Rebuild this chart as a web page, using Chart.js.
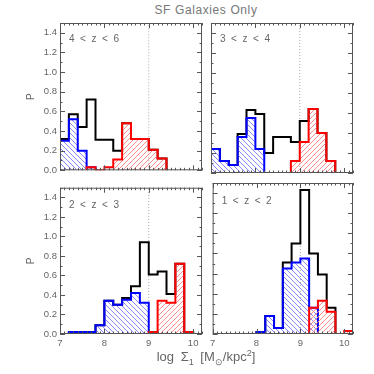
<!DOCTYPE html>
<html>
<head>
<meta charset="utf-8">
<script src="https://cdn.jsdelivr.net/npm/chart.js@4"></script>
<style>
  body { margin: 0; background: #fff; }
  #wrap { position: relative; width: 374px; height: 374px; font-family: "Liberation Sans", Arial, sans-serif; color: #666; }
  canvas { position: absolute; }
  #title { position: absolute; left: 106px; top: 3px; width: 200px; text-align: center; font-size: 12px; line-height: 14px; letter-spacing: 0.6px; color: #777; }
  #xtitle { position: absolute; left: 86px; top: 349px; width: 240px; text-align: center; font-size: 13px; line-height: 16px; word-spacing: 3px; }
  #xtitle sub, #xtitle sup { font-size: 9px; line-height: 0; }
</style>
</head>
<body>
<div id="wrap">
  <div id="title">SF Galaxies Only</div>
  <canvas id="c1" width="208" height="166" style="left:0px;top:13px"></canvas>
  <canvas id="c2" width="168" height="166" style="left:206px;top:13px"></canvas>
  <canvas id="c3" width="208" height="173" style="left:0px;top:179px"></canvas>
  <canvas id="c4" width="168" height="173" style="left:206px;top:179px"></canvas>
  <div id="xtitle">log Σ<sub>1</sub> [M<sub>⊙</sub>/kpc<sup>2</sup>]</div>
</div>
<script>
// Data: bins of 0.2 dex in log Sigma_1, starting at 7.0
const binEdges = [7.0, 7.2, 7.4, 7.6, 7.8, 8.0, 8.2, 8.4, 8.6, 8.8, 9.0, 9.2, 9.4, 9.6, 9.8, 10.0, 10.2];
const panelLabels = ['4  <  z  <  6', '3  <  z  <  4', '2  <  z  <  3', '1  <  z  <  2'];
const xTicks = [7, 8, 9, 10];
const yTicks = [0.0, 0.2, 0.4, 0.6, 0.8, 1.0, 1.2, 1.4];
const thresholdLogSigma = 9.0;

// 4 < z < 6
const allZ46  = [0.32, 0.57, 0.44, 0.72, 0.31, 0.31, 0.20, 0.48, 0.32, 0.32, 0.21, 0.12, 0, 0, 0, 0];
const blueZ46 = [0.30, 0.52, 0.20, 0.03, 0, 0, 0, 0, 0, 0, 0, 0, 0, 0, 0, 0];
const redZ46  = [0, 0, 0, 0.03, 0, 0.03, 0.11, 0.48, 0.32, 0.32, 0.21, 0.12, 0, 0, 0, 0];
// 3 < z < 4
const allZ34  = [0.24, 0.12, 0.08, 0.39, 0.63, 0.59, 0.20, 0.36, 0.36, 0.31, 0.52, 0.64, 0.40, 0.12, 0, 0];
const blueZ34 = [0.24, 0.12, 0.08, 0.36, 0.55, 0.24, 0, 0, 0, 0, 0, 0, 0, 0, 0, 0];
const redZ34  = [0, 0, 0, 0, 0, 0, 0, 0, 0, 0.12, 0.31, 0.64, 0.40, 0.12, 0, 0];
// 2 < z < 3
const allZ23  = [0, 0.02, 0.02, 0.02, 0.09, 0.34, 0.30, 0.37, 0.49, 0.94, 0.61, 0.64, 0.41, 0.72, 0.02, 0];
const blueZ23 = [0, 0.02, 0.02, 0.02, 0.09, 0.34, 0.30, 0.35, 0.42, 0.32, 0, 0, 0, 0, 0, 0];
const redZ23  = [0, 0, 0, 0, 0, 0, 0, 0, 0, 0, 0.02, 0.34, 0.32, 0.72, 0.02, 0];
// 1 < z < 2
const allZ12  = [0, 0, 0, 0, 0, 0.02, 0.18, 0.06, 0.71, 0.90, 1.43, 0.80, 0.59, 0.26, 0, 0];
const blueZ12 = [0, 0, 0, 0, 0, 0.02, 0.18, 0.06, 0.65, 0.71, 0.75, 0.26, 0, 0, 0, 0];
const redZ12  = [0, 0, 0, 0, 0, 0, 0, 0, 0, 0, 0, 0.26, 0.33, 0.22, 0, 0.03];

// hatch patterns
function makeHatch(color, size, forward) {
    const c = document.createElement('canvas');
    c.width = size; c.height = size;
    const g = c.getContext('2d');
    g.fillStyle = 'rgba(255,255,255,0)';
    g.fillRect(0, 0, size, size);
    g.strokeStyle = color;
    g.lineWidth = 0.9;
    g.beginPath();
    for (let o = -size; o <= size; o += size) {
        if (forward) {
            g.moveTo(o, size); g.lineTo(o + size, 0);
        } else {
            g.moveTo(o, 0); g.lineTo(o + size, size);
        }
    }
    g.stroke();
    return g.createPattern(c, 'repeat');
}
const blueHatch = makeHatch('#7a7aff', 5, false);
const redHatch = makeHatch('#ff8080', 5, true);

// turn bin values into step points
function histPoints(values) {
    const first = values.findIndex(v => v > 0);
    let last = first;
    values.forEach((v, i) => { if (v > 0) last = i; });
    const pts = [{ x: binEdges[first], y: 0 }];
    for (let i = first; i <= last; i++) pts.push({ x: binEdges[i], y: values[i] });
    pts.push({ x: binEdges[last + 1], y: 0 });
    return pts;
}

// frame, inward ticks and panel label
const panelDeco = {
    id: 'panelDeco',
    afterDraw(chart, args, opts) {
        const ctx = chart.ctx;
        const a = chart.chartArea;
        const xs = chart.scales.x, ys = chart.scales.y;
        ctx.save();
        ctx.strokeStyle = '#555';
        ctx.lineWidth = 1;
        ctx.strokeRect(a.left + 0.5, a.top + 0.5, a.right - a.left - 1, a.bottom - a.top - 1);
        ctx.beginPath();
        for (let k = 70; k <= 102; k++) {
            const px = Math.round(xs.getPixelForValue(k / 10)) + 0.5;
            const len = k % 10 === 0 ? 5 : 2.5;
            ctx.moveTo(px, a.top); ctx.lineTo(px, a.top + len);
            ctx.moveTo(px, a.bottom); ctx.lineTo(px, a.bottom - len);
        }
        for (let k = 0; k <= 15; k++) {
            const py = Math.round(ys.getPixelForValue(k / 10)) + 0.5;
            const len = k % 2 === 0 ? 5 : 2.5;
            ctx.moveTo(a.left, py); ctx.lineTo(a.left + len, py);
            ctx.moveTo(a.right, py); ctx.lineTo(a.right - len, py);
        }
        ctx.stroke();
        ctx.fillStyle = '#666';
        ctx.font = '10px "Liberation Sans", Arial, sans-serif';
        ctx.textBaseline = 'middle';
        ctx.fillText(opts.label, a.left + 9, a.top + opts.labelDy);
        ctx.restore();
    }
};

Chart.defaults.font.family = '"Liberation Sans", Arial, sans-serif';
Chart.defaults.color = '#666';

function makePanel(id, label, all, blue, red, lay) {
    new Chart(document.getElementById(id), {
        type: 'line',
        data: {
            datasets: [
                { data: histPoints(red), borderColor: '#ff0000', backgroundColor: redHatch, fill: 'origin', order: 1 },
                { data: histPoints(blue), borderColor: '#0000ff', backgroundColor: blueHatch, fill: 'origin', order: 2 },
                { data: histPoints(all), borderColor: '#000000', backgroundColor: 'rgba(0,0,0,0)', fill: false, order: 3 },
                { data: [{ x: thresholdLogSigma, y: 0 }, { x: thresholdLogSigma, y: 1.5 }], borderColor: '#aaa',
                  backgroundColor: 'rgba(0,0,0,0)', borderWidth: 1, borderDash: [1, 2], stepped: false, fill: false, order: 4 }
            ]
        },
        options: {
            responsive: false,
            animation: false,
            devicePixelRatio: 1,
            layout: { padding: { top: lay.padTop, right: lay.padRight, left: 0, bottom: 0 } },
            elements: {
                line: { borderWidth: 2, stepped: 'before', tension: 0 },
                point: { radius: 0 }
            },
            plugins: {
                legend: { display: false },
                tooltip: { enabled: false },
                panelDeco: { label: label, labelDy: lay.labelDy }
            },
            scales: {
                x: {
                    type: 'linear', min: 7, max: 10.2,
                    grid: { display: false, drawTicks: false },
                    border: { display: false },
                    afterBuildTicks: s => { s.ticks = xTicks.map(v => ({ value: v })); },
                    afterFit: s => { s.height = lay.xAxisH; },
                    ticks: { display: lay.showX, autoSkip: false, maxRotation: 0, padding: 4,
                             font: { size: 9.5 }, color: '#666', callback: v => String(v) }
                },
                y: {
                    min: 0, max: 1.5,
                    grid: { display: false, drawTicks: false },
                    border: { display: false },
                    afterBuildTicks: s => { s.ticks = yTicks.map(v => ({ value: v })); },
                    afterFit: s => { s.width = lay.yAxisW; },
                    title: { display: lay.showY, text: 'P', color: '#666', font: { size: 10 }, padding: { top: 25, bottom: 0 } },
                    ticks: { display: lay.showY, autoSkip: false, padding: 3,
                             font: { size: 9.5 }, color: '#666', callback: v => v.toFixed(1) }
                }
            }
        },
        plugins: [panelDeco]
    });
}

const topLeft = { yAxisW: 60, xAxisH: 6, padTop: 10, padRight: 6, showX: false, showY: true, labelDy: 16 };
const topRight = { yAxisW: 5, xAxisH: 6, padTop: 10, padRight: 21, showX: false, showY: false, labelDy: 16 };
const botLeft = { yAxisW: 60, xAxisH: 18, padTop: 4, padRight: 6, showX: true, showY: true, labelDy: 18 };
const botRight = { yAxisW: 5, xAxisH: 18, padTop: 4, padRight: 21, showX: true, showY: false, labelDy: 18 };

makePanel('c1', panelLabels[0], allZ46, blueZ46, redZ46, topLeft);
makePanel('c2', panelLabels[1], allZ34, blueZ34, redZ34, topRight);
makePanel('c3', panelLabels[2], allZ23, blueZ23, redZ23, botLeft);
makePanel('c4', panelLabels[3], allZ12, blueZ12, redZ12, botRight);
</script>
</body>
</html>
